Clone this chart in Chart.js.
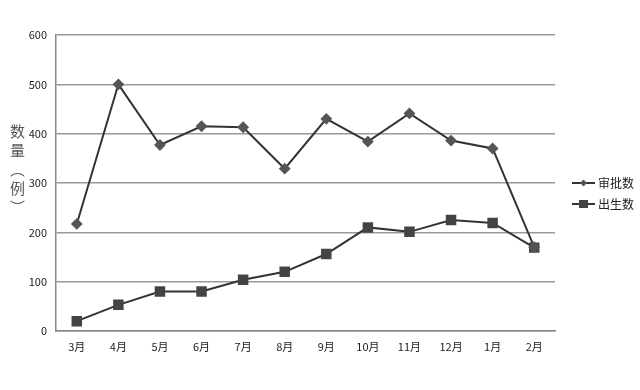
<!DOCTYPE html>
<html>
<head>
<meta charset="utf-8">
<script src="https://cdn.jsdelivr.net/npm/chart.js@4"></script>
<style>
  html, body { margin: 0; padding: 0; background: #fff; }
  #wrap { position: relative; width: 640px; height: 390px; }
  #ytitle {
    position: absolute; left: 7px; top: 124px;
    writing-mode: vertical-rl;
    font-family: "Noto Sans CJK SC", sans-serif; font-size: 15px;
    color: #555; letter-spacing: 4px;
  }
</style>
</head>
<body>
<div id="wrap">
  <canvas id="chart" width="640" height="390"></canvas>
  <div id="ytitle">数量（例）</div>
</div>
<script>
// 月份
const months = ["3月", "4月", "5月", "6月", "7月", "8月", "9月", "10月", "11月", "12月", "1月", "2月"];
// 审批数 / 出生数
const approved = [217, 500, 377, 415, 413, 329, 430, 384, 441, 386, 370, 170];
const births = [20, 53, 80, 80, 104, 120, 156, 210, 201, 225, 219, 169];
const yTicks = [0, 100, 200, 300, 400, 500, 600];

const font = "Noto Sans CJK SC";

// legend drawn as line + marker, like the office-style chart
const lineLegend = {
  id: "lineLegend",
  afterDraw(chart) {
    const c = chart.ctx;
    const rows = [183, 204];
    chart.data.datasets.forEach((ds, i) => {
      const y = rows[i];
      c.save();
      c.strokeStyle = ds.borderColor;
      c.lineWidth = 2;
      c.beginPath();
      c.moveTo(572, y);
      c.lineTo(595, y);
      c.stroke();
      c.fillStyle = ds.pointBackgroundColor;
      c.beginPath();
      if (ds.pointStyle === "rectRot") {
        c.moveTo(583.5, y - 3.5);
        c.lineTo(587, y);
        c.lineTo(583.5, y + 3.5);
        c.lineTo(580, y);
      } else {
        c.rect(579, y - 4, 9, 8);
      }
      c.closePath();
      c.fill();
      c.fillStyle = "#222";
      c.font = "12px '" + font + "'";
      c.textBaseline = "middle";
      c.fillText(ds.label, 598, y);
      c.restore();
    });
  },
};

const ctx = document.getElementById("chart").getContext("2d");
const chart = new Chart(ctx, {
  type: "line",
  data: {
    labels: months,
    datasets: [
      {
        label: "审批数",
        data: approved,
        borderColor: "#333",
        borderWidth: 2,
        pointStyle: "rectRot",
        pointRadius: 4.5,
        pointBackgroundColor: "#555",
        pointBorderColor: "#555",
        tension: 0,
      },
      {
        label: "出生数",
        data: births,
        borderColor: "#333",
        borderWidth: 2,
        pointStyle: "rect",
        pointRadius: 6,
        pointBackgroundColor: "#444",
        pointBorderColor: "#444",
        tension: 0,
      },
    ],
  },
  options: {
    responsive: false,
    animation: false,
    layout: { padding: { left: 0, right: 85, top: 35, bottom: 29 } },
    plugins: {
      legend: { display: false },
      tooltip: { enabled: false },
    },
    scales: {
      x: {
        offset: true,
        grid: { display: false, drawTicks: false },
        border: { color: "#888", width: 1.5 },
        ticks: {
          color: "#222",
          padding: 9,
          font: { family: font, size: 11 },
          maxRotation: 0,
        },
        afterFit(scale) { scale.height = 30; },
      },
      y: {
        min: 0,
        max: 600,
        afterBuildTicks(scale) { scale.ticks = yTicks.map(v => ({ value: v })); },
        grid: { color: "#999", lineWidth: 1.5, drawTicks: false },
        border: { color: "#888", width: 1.5 },
        ticks: {
          color: "#222",
          padding: 9,
          font: { family: font, size: 11 },
        },
        afterFit(scale) { scale.width = 56; },
      },
    },
  },
  plugins: [lineLegend],
});
</script>
</body>
</html>
